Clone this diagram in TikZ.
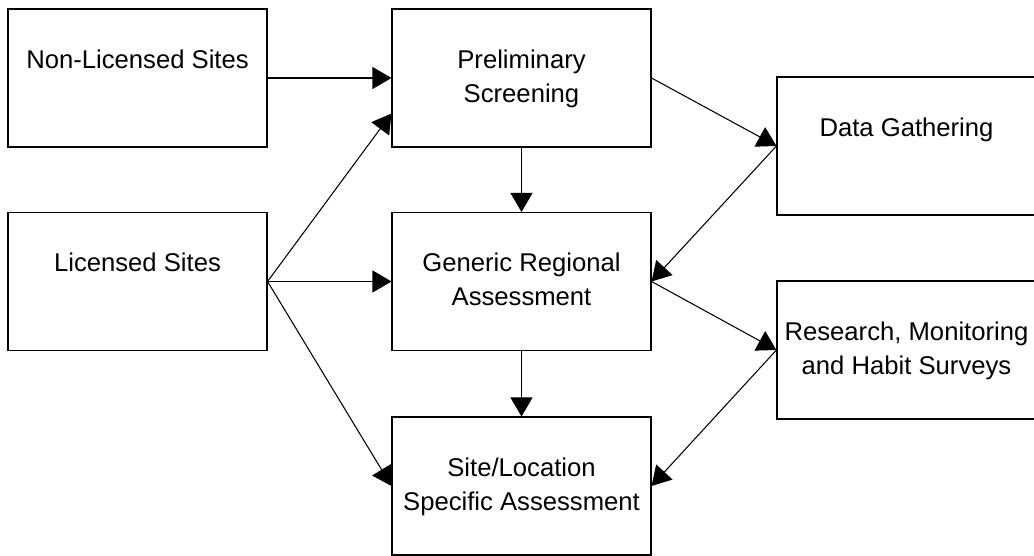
\documentclass[tikz,border=0pt]{standalone}
\usepackage{fontspec}
\setmainfont{Liberation Sans}
\usetikzlibrary{arrows.meta,positioning}

\begin{document}
\begin{tikzpicture}[
  stagebox/.style={
    draw,
    line width=0.6pt,
    minimum width=5.18cm,
    minimum height=2.76cm
  },
  caption/.style={
    anchor=north,
    inner sep=0pt,
    align=center,
    font=\fontsize{14.6}{19.3}\selectfont
  },
  flow/.style={-{Triangle[length=0.38cm,width=0.44cm]},line width=0.6pt}
]
  \useasboundingbox (0,0) rectangle (20.68,11.12);

  % boxes
  \node[stagebox] (nonlic) at (2.75,9.56) {};
  \node[stagebox] (lic) at (2.75,5.49) {};
  \node[stagebox] (prelim) at (10.43,9.56) {};
  \node[stagebox] (generic) at (10.43,5.49) {};
  \node[stagebox] (site) at (10.43,1.40) {};
  \node[stagebox] (data) at (18.13,8.20) {};
  \node[stagebox] (research) at (18.13,4.12) {};

  % texts, set near the top of each box
  \node[caption,below=0.82cm of nonlic.north] (nonlic-t) {Non-Licensed Sites};
  \node[caption,below=0.82cm of lic.north] (lic-t) {Licensed Sites};
  \node[caption,below=0.82cm of prelim.north] (prelim-t) {Preliminary\\Screening};
  \node[caption,below=0.82cm of generic.north] (generic-t) {Generic Regional\\Assessment};
  \node[caption,below=0.82cm of site.north] (site-t) {Site/Location\\Specific Assessment};
  \node[caption,below=0.82cm of data.north] (data-t) {Data Gathering};
  \node[caption,below=0.82cm of research.north] (research-t) {Research, Monitoring\\and Habit Surveys};

  \path[flow]
    (nonlic.east) edge (prelim.west)
    (lic.east) edge ([yshift=0.68cm]prelim.south west)
    (lic.east) edge (generic.west)
    (lic.east) edge (site.west)
    (prelim.south) edge (generic.north)
    (generic.south) edge (site.north)
    (prelim.east) edge (data.west)
    (data.west) edge (generic.east)
    (generic.east) edge (research.west)
    (research.west) edge (site.east);
\end{tikzpicture}
\end{document}
